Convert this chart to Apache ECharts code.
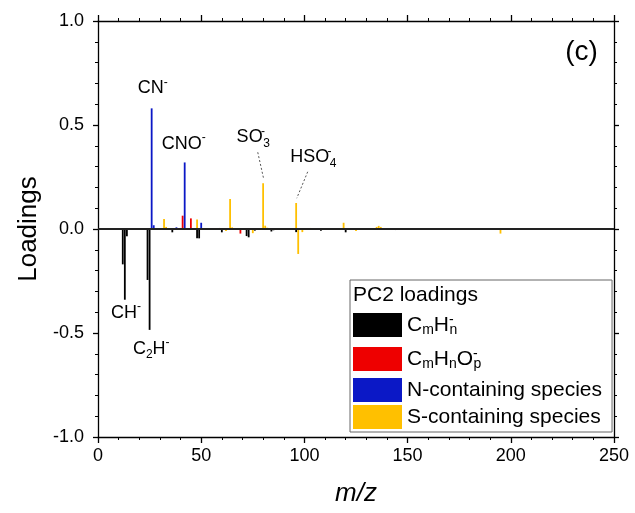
<!DOCTYPE html>
<html><head><meta charset="utf-8">
<script src="https://cdn.jsdelivr.net/npm/echarts@6/dist/echarts.min.js"></script>
<style>html,body{margin:0;padding:0;background:#fff}#c{width:635px;height:513px}</style>
</head><body><div id="c"></div>
<script>
const FONT = '"Liberation Sans", Arial, Helvetica, sans-serif';

// ---- data (m/z positions and PC2 loadings) ----
const hcMz   = [12, 13, 14, 24, 25, 36, 48, 49, 60, 72, 73, 76, 84, 85, 96, 108, 120, 132, 144];
const hcVal  = [-0.17, -0.34, -0.035, -0.245, -0.485, -0.016, -0.045, -0.045, -0.016, -0.034, -0.04, -0.008, -0.012, -0.006, -0.015, -0.008, -0.016, -0.004, -0.005];
const hcoMz  = [41, 45, 53, 57, 59, 69, 71];
const hcoVal = [0.064, 0.051, 0.004, -0.004, 0.005, -0.022, 0.004];
const nMz    = [26, 27, 38, 40, 42, 50];
const nVal   = [0.58, 0.018, 0.008, 0.005, 0.32, 0.03];
const sMz    = [32, 33, 48, 62, 64, 65, 75, 80, 81, 82, 96, 97, 99, 103, 112, 119, 121, 125, 135, 136, 137, 177, 195];
const sVal   = [0.048, 0.01, 0.046, -0.01, 0.144, 0.008, -0.02, 0.22, 0.016, 0.006, 0.125, -0.12, -0.015, 0.005, 0.004, 0.03, -0.004, -0.01, 0.01, 0.015, 0.01, 0.003, -0.022];

const seriesNames = ['CmHn', 'CmHnOp', 'N-containing species', 'S-containing species'];
const seriesColors = ['#000000', '#ee0000', '#0b18c6', '#ffc000'];

// annotation texts and anchors (data coordinates)
const annoTexts = ['{n|CN}{sup|-}', '{n|CNO}{sup|-}', '{n|SO}{supz|-}{sub|3}', '{n|HSO}{supz|-}{sub|4}', '{n|CH}{sup|-}', '{n|C}{sub|2}{n|H}{sup|-}', '{big|(c)}'];
const annoAt = [[26.5, 0.676], [41.6, 0.41], [75.2, 0.44], [104.3, 0.345], [13.6, -0.404], [25.8, -0.575], [234.3, 0.851]];
const leaderLines = [[[77.4, 0.369], [80.2, 0.244]], [[101.6, 0.275], [96.3, 0.148]]];

const zip = (a, b) => a.map((m, i) => [m, b[i]]);
const seriesData = [zip(hcMz, hcVal), zip(hcoMz, hcoVal), zip(nMz, nVal), zip(sMz, sVal)];

const richAnno = {
  n:    {fontSize: 18, lineHeight: 24, color: '#000', fontFamily: FONT},
  sup:  {fontSize: 12, lineHeight: 12, verticalAlign: 'top', color: '#000', fontFamily: FONT},
  supz: {fontSize: 12, lineHeight: 12, verticalAlign: 'top', width: 0.5, color: '#000', fontFamily: FONT},
  sub:  {fontSize: 12, lineHeight: 12, padding: [14, 0, 0, 0], verticalAlign: 'bottom', color: '#000', fontFamily: FONT},
  big:  {fontSize: 28, lineHeight: 32, color: '#000', fontFamily: FONT}
};
const richLegend = {
  n:    {fontSize: 21, lineHeight: 24, color: '#000', fontFamily: FONT},
  supz: {fontSize: 14, lineHeight: 14, verticalAlign: 'top', width: 0.5, color: '#000', fontFamily: FONT},
  sub:  {fontSize: 14, lineHeight: 14, padding: [17, 0, 0, 0], verticalAlign: 'bottom', color: '#000', fontFamily: FONT},
  sp:   {fontSize: 4, lineHeight: 4, width: 0.1, padding: [24, 0, 0, 0], verticalAlign: 'bottom', color: 'rgba(0,0,0,0)'}
};
const legendFmt = {
  'CmHn': '{n|C}{sub|m}{n|H}{supz|-}{sub|n}',
  'CmHnOp': '{n|C}{sub|m}{n|H}{sub|n}{n|O}{supz|-}{sub|p}',
  'N-containing species': '{sp|.}{n|N-containing species}',
  'S-containing species': '{n|S-containing species}'
};

const axisLineStyle = {color: '#000', width: 1.3};
function xAx(pos, labels) {
  return {
    type: 'value', min: 0, max: 250, interval: 50, position: pos,
    axisLine: {show: true, onZero: false, lineStyle: axisLineStyle},
    axisTick: {show: true, inside: false, length: 6, lineStyle: axisLineStyle},
    minorTick: {show: true, splitNumber: 5, length: 3, lineStyle: {color: '#000', width: 1}},
    axisLabel: {show: labels, fontSize: 18, color: '#000', fontFamily: FONT, margin: 10},
    splitLine: {show: false}, minorSplitLine: {show: false},
    name: labels ? 'm/z' : '', nameLocation: 'middle', nameGap: 44,
    nameTextStyle: {fontSize: 26, fontStyle: 'italic', color: '#000', fontFamily: FONT}
  };
}
function yAx(pos, labels) {
  return {
    type: 'value', min: -1, max: 1, interval: 0.5, position: pos,
    axisLine: {show: true, onZero: false, lineStyle: axisLineStyle},
    axisTick: {show: true, inside: false, length: 5, lineStyle: axisLineStyle},
    minorTick: {show: true, splitNumber: 5, length: 3, lineStyle: {color: '#000', width: 1}},
    axisLabel: {show: labels, fontSize: 18, color: '#000', fontFamily: FONT, margin: 14, formatter: v => v.toFixed(1)},
    splitLine: {show: false}, minorSplitLine: {show: false},
    name: labels ? 'Loadings' : '', nameLocation: 'middle', nameGap: 56, nameRotate: 90,
    nameTextStyle: {fontSize: 26, color: '#000', fontFamily: FONT}
  };
}

const series = seriesNames.map((name, i) => ({
  name, type: 'bar', xAxisIndex: 0, yAxisIndex: 0,
  data: seriesData[i], barWidth: 1.8, barGap: '-100%',
  itemStyle: {color: seriesColors[i]},
  silent: true, animation: false
}));
series[0].markLine = {
  silent: true, symbol: ['none', 'none'], animation: false,
  label: {show: false},
  lineStyle: {color: '#222', width: 2, type: 'solid'},
  data: [{yAxis: 0}]
};
series[0].markPoint = {
  silent: true, animation: false, symbol: 'circle', symbolSize: 0,
  label: {show: true, position: 'inside', rich: richAnno},
  data: annoTexts.map((t, i) => ({coord: annoAt[i], label: {formatter: t}}))
};
series[3].markLine = {
  silent: true, symbol: ['none', 'none'], animation: false,
  label: {show: false},
  lineStyle: {color: '#555', width: 1, type: [2, 2]},
  data: leaderLines.map(l => [{coord: l[0]}, {coord: l[1]}])
};

const chart = echarts.init(document.getElementById('c'), null, {renderer: 'canvas'});
chart.setOption({
  animation: false,
  backgroundColor: '#fff',
  grid: {left: 98, top: 21, width: 516, height: 416, containLabel: false},
  xAxis: [xAx('bottom', true), xAx('top', false)],
  yAxis: [yAx('left', true), yAx('right', false)],
  title: {text: 'PC2 loadings', left: 353, top: 285, padding: 0,
    textStyle: {fontSize: 21, fontWeight: 'normal', color: '#000', fontFamily: FONT}},
  legend: {
    data: seriesNames, orient: 'vertical', left: 350, top: 280,
    padding: [26, 10, 3, 3], itemGap: 3, itemWidth: 49, itemHeight: 24,
    borderColor: '#666', borderWidth: 1, selectedMode: false, icon: 'rect',
    formatter: name => legendFmt[name],
    textStyle: {fontSize: 21, color: '#000', fontFamily: FONT, rich: richLegend}
  },
  series
});
</script></body></html>
